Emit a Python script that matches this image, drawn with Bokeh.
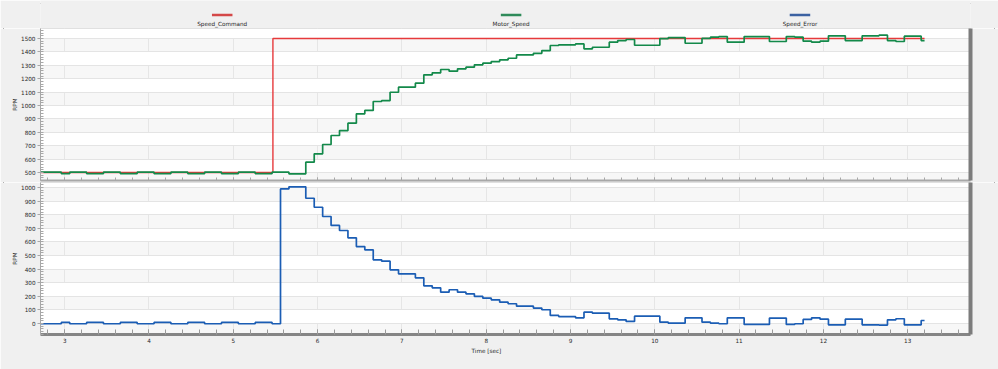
from bokeh.plotting import figure
from bokeh.models import (Range1d, LinearAxis, SingleIntervalTicker, FixedTicker, Grid,
                          Title, CustomJSTickFormatter)
from bokeh.layouts import column
from bokeh.core.properties import value
from bokeh.embed import file_html
from bokeh.resources import INLINE

# ---------------- data ----------------
series_names = ["Speed_Command", "Motor_Speed", "Speed_Error"]
line_colors = ["#e6393b", "#13894a", "#1b5db4"]
swatch_colors = ["#d44848", "#2f8b5a", "#3c62a2"]
x_label = "Time [sec]"
y_label = "RPM"

cmd_t = [2.70, 5.47, 13.20]
cmd_v = [500, 1500, 1500]

speed_t = [2.70, 2.96, 3.06, 3.26, 3.46, 3.66, 3.86, 4.06, 4.26, 4.46, 4.66, 4.86, 5.06, 5.26, 5.46,
           5.66, 5.86, 5.96, 6.06, 6.16, 6.26, 6.36, 6.46, 6.56, 6.66, 6.76, 6.86, 6.96, 7.16, 7.26,
           7.36, 7.46, 7.56, 7.66, 7.76, 7.86, 7.96, 8.06, 8.16, 8.26, 8.36, 8.56, 8.66, 8.76, 8.86,
           9.06, 9.16, 9.26, 9.46, 9.56, 9.66, 9.76, 10.06, 10.16, 10.36, 10.56, 10.66, 10.76, 10.86,
           11.06, 11.36, 11.56, 11.66, 11.76, 11.86, 11.96, 12.06, 12.26, 12.46, 12.66, 12.76, 12.86,
           12.96, 13.16, 13.20]
speed_v = [502, 492, 502, 492, 502, 492, 502, 492, 502, 492, 502, 492, 502, 492, 502,
           490, 577, 639, 709, 776, 813, 868, 938, 963, 1030, 1037, 1099, 1137, 1167, 1229,
           1244, 1269, 1256, 1274, 1286, 1304, 1316, 1328, 1341, 1353, 1378, 1390, 1410, 1448, 1453,
           1460, 1423, 1435, 1473, 1485, 1493, 1450, 1500, 1507, 1465, 1502, 1510, 1515, 1473,
           1515, 1478, 1515, 1510, 1480, 1473, 1480, 1520, 1485, 1520, 1525, 1485, 1478,
           1518, 1485, 1485]

error_t = [2.70, 2.96, 3.06, 3.26, 3.46, 3.66, 3.86, 4.06, 4.26, 4.46, 4.66, 4.86, 5.06, 5.26, 5.46,
           5.56, 5.66, 5.86, 5.96, 6.06, 6.16, 6.26, 6.36, 6.46, 6.56, 6.66, 6.76, 6.86, 6.96, 7.16,
           7.26, 7.36, 7.46, 7.56, 7.66, 7.76, 7.86, 7.96, 8.06, 8.16, 8.26, 8.36, 8.56, 8.66, 8.76,
           8.86, 9.06, 9.16, 9.26, 9.46, 9.56, 9.66, 9.76, 10.06, 10.16, 10.36, 10.56, 10.66, 10.76,
           10.86, 11.06, 11.36, 11.56, 11.66, 11.76, 11.86, 11.96, 12.06, 12.26, 12.46, 12.66, 12.76,
           12.86, 12.96, 13.16, 13.20]
error_v = [-2, 8, -2, 8, -2, 8, -2, 8, -2, 8, -2, 8, -2, 8, -2,
           990, 1005, 921, 855, 787, 721, 684, 630, 566, 542, 468, 458, 395, 365, 336,
           277, 262, 230, 248, 230, 218, 199, 186, 174, 157, 145, 127, 113, 101, 59,
           51, 42, 83, 76, 34, 27, 15, 54, 10, 2, 42, 10, 2, -2,
           42, -7, 40, -7, -2, 30, 42, 32, -10, 32, -10, -12, 27,
           35, -10, 22, 22]

# ---------------- layout / style ----------------
W = 998
FONT = "DejaVu Sans"
FS = "5.7px"
TXT = "#262626"
BG = "#f0f0f0"
FRAME_L, FRAME_R = 40, 970
LEG_H, TOP_H, BOT_H = 28, 154, 187

xr = Range1d(2.713, 13.745)

# legend strip
leg = figure(width=W, height=LEG_H, x_range=Range1d(0, W), y_range=Range1d(LEG_H, 0),
             x_axis_type=None, y_axis_type=None, toolbar_location=None, output_backend="svg",
             min_border=0, outline_line_color=None, background_fill_color=BG, border_fill_color=BG)
step_w = (FRAME_R - FRAME_L) / 6.0
cx = [FRAME_L + (2 * i + 1) * step_w for i in range(len(series_names))]
leg.segment(x0=[c - 11 for c in cx], x1=[c + 11 for c in cx], y0=[14.5] * 3, y1=[14.5] * 3,
            line_color=swatch_colors, line_width=2.5)
leg.text(x=cx, y=[23.5] * 3, text=series_names, text_align="center", text_baseline="middle",
         text_font=value(FONT), text_font_size=value(FS), text_color=TXT)


def make_panel(height, yr, bottom_border, show_x_labels):
    p = figure(width=W, height=height, x_range=xr, y_range=Range1d(*yr),
               x_axis_type=None, y_axis_type=None, toolbar_location=None, output_backend="svg",
               min_border_left=FRAME_L, min_border_right=W - FRAME_R, min_border_top=0,
               min_border_bottom=bottom_border,
               background_fill_color="#f7f7f7", border_fill_color=BG,
               outline_line_color="#d6d6d6", outline_line_width=1)
    yt = SingleIntervalTicker(interval=100, num_minor_ticks=5)
    xt = SingleIntervalTicker(interval=1, num_minor_ticks=5)

    yax = LinearAxis(ticker=yt, axis_label=y_label,
                     axis_label_text_font=FONT, axis_label_text_font_size=FS,
                     axis_label_text_font_style="normal", axis_label_text_color=TXT,
                     axis_label_standoff=0,
                     major_label_text_font=FONT, major_label_text_font_size=FS,
                     major_label_text_color=TXT, major_label_standoff=2,
                     axis_line_color="#a8a8a8", major_tick_line_color="#a8a8a8",
                     minor_tick_line_color="#a8a8a8",
                     major_tick_out=3, major_tick_in=0, minor_tick_in=3, minor_tick_out=0)
    p.add_layout(yax, "left")

    if show_x_labels:
        xax = LinearAxis(ticker=xt, major_label_text_font=FONT, major_label_text_font_size=FS,
                         major_label_text_color=TXT, major_label_standoff=3,
                         axis_line_color="#858585", axis_line_width=3,
                         major_tick_line_color="#9a9a9a", minor_tick_line_color="#9a9a9a",
                         major_tick_in=5, major_tick_out=0, minor_tick_in=5, minor_tick_out=0)
    else:
        xax = LinearAxis(ticker=xt, formatter=CustomJSTickFormatter(code="return ''"),
                         major_label_text_font_size="1px", major_label_standoff=0,
                         axis_line_color="#a8a8a8", axis_line_width=2,
                         major_tick_line_color="#a8a8a8", minor_tick_line_color="#a8a8a8",
                         major_tick_in=3, major_tick_out=0, minor_tick_in=3, minor_tick_out=0)
    p.add_layout(xax, "below")

    rax = LinearAxis(ticker=FixedTicker(ticks=[]), axis_line_color="#7c7c7c", axis_line_width=4,
                     major_label_standoff=0, major_tick_out=0, major_tick_in=0,
                     minor_tick_out=0, minor_tick_in=0)
    p.add_layout(rax, "right")

    p.add_layout(Grid(dimension=0, ticker=xt, grid_line_color="#e6e6e6"))
    p.add_layout(Grid(dimension=1, ticker=yt, grid_line_color="#e4e4e4",
                      band_fill_color="#ffffff", band_fill_alpha=1.0))
    return p


top = make_panel(TOP_H, (440, 1575), 2, False)
top.step(cmd_t, cmd_v, mode="after", line_color=line_colors[0], line_width=1.4)
top.step(speed_t, speed_v, mode="after", line_color=line_colors[1], line_width=1.7)

bot = make_panel(BOT_H, (-81, 1037), 35, True)
bot.step(error_t, error_v, mode="after", line_color=line_colors[2], line_width=1.7)
bot.add_layout(Title(text=x_label, align="left", offset=431, standoff=0,
                     text_font=FONT, text_font_size=FS, text_font_style="normal",
                     text_color=TXT), "below")

layout = column(leg, top, bot, spacing=0,
                styles={"position": "absolute", "left": "0px", "top": "0px",
                        "outline": "1px solid #9a9a9a", "outline-offset": "-4px"})

open("out.html", "w").write(file_html(layout, INLINE))
